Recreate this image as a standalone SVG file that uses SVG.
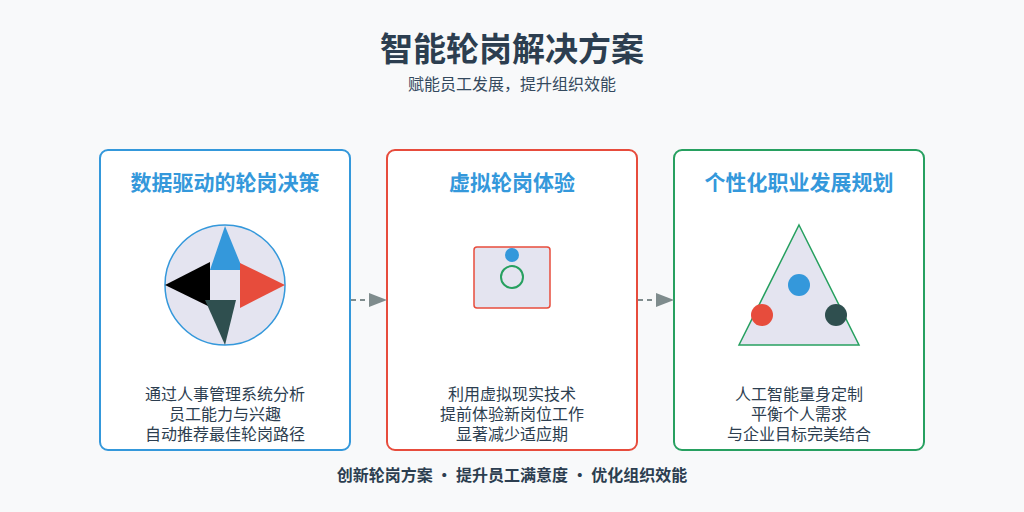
<svg xmlns="http://www.w3.org/2000/svg" width="1024" height="512" viewBox="0 0 1024 512">
<style>
text{font-family:"Noto Sans CJK SC","Noto Sans",sans-serif;text-anchor:middle}
.card{fill:#fff;stroke-width:2}
.h{font-size:21px;font-weight:bold;fill:#3498db}
.d{font-size:16px;fill:#2c3e50}
.c{stroke:#7f8c8d;stroke-width:2;stroke-dasharray:5,4;fill:none}
</style>
<defs>
<marker id="a2" markerWidth="20" markerHeight="14" refX="18" refY="7" orient="auto" markerUnits="userSpaceOnUse"><path d="M0,0 L18,7 L0,14Z" fill="#7f8c8d"/></marker></defs>
<rect width="1024" height="512" fill="#f8f9fa"/>
<text x="512" y="61" font-size="33" font-weight="bold" fill="#2c3e50">智能轮岗解决方案</text>
<text x="512" y="90" font-size="16" fill="#34495e">赋能员工发展，提升组织效能</text>
<g id="card1">
<rect class="card" x="100" y="150" width="250" height="300" rx="8" stroke="#3498db"/>
<text class="h" x="225" y="190">数据驱动的轮岗决策</text>
<circle cx="225" cy="285" r="60" fill="#e4e4f0" stroke="#3498db" stroke-width="1.5"/>
<polygon points="225,226 243,270 210,270" fill="#3498db"/>
<polygon points="240,263 285,285 240,308" fill="#e74c3c"/>
<polygon points="165,285 210,262 210,307" fill="#000"/>
<polygon points="205,300 236,300 225,345" fill="#2f4f4f"/>
<text class="d" x="225" y="400">通过人事管理系统分析</text>
<text class="d" x="225" y="420">员工能力与兴趣</text>
<text class="d" x="225" y="440">自动推荐最佳轮岗路径</text>
</g>
<g id="card2">
<rect class="card" x="387" y="150" width="250" height="300" rx="8" stroke="#e74c3c"/>
<text class="h" x="512" y="190">虚拟轮岗体验</text>
<rect x="474" y="247" width="76" height="61" rx="3" fill="#e4e4f0" stroke="#e74c3c" stroke-width="1.5"/>
<circle cx="512" cy="255" r="7" fill="#3498db"/>
<circle cx="512" cy="277" r="11" fill="none" stroke="#27a060" stroke-width="2"/>
<text class="d" x="512" y="400">利用虚拟现实技术</text>
<text class="d" x="512" y="420">提前体验新岗位工作</text>
<text class="d" x="512" y="440">显著减少适应期</text>
</g>
<g id="card3">
<rect class="card" x="674" y="150" width="250" height="300" rx="8" stroke="#27a060"/>
<text class="h" x="799" y="190">个性化职业发展规划</text>
<polygon points="799,225 859,345 739,345" fill="#e4e4f0" stroke="#27a060" stroke-width="1.5"/>
<circle cx="799" cy="285" r="11" fill="#3498db"/>
<circle cx="762" cy="315" r="11" fill="#e74c3c"/>
<circle cx="836" cy="315" r="11" fill="#2f4f4f"/>
<text class="d" x="799" y="400">人工智能量身定制</text>
<text class="d" x="799" y="420">平衡个人需求</text>
<text class="d" x="799" y="440">与企业目标完美结合</text>
</g>
<g id="connectors">
<line class="c" x1="351" y1="300" x2="387" y2="300" marker-end="url(#a2)"/>
<line class="c" x1="638" y1="300" x2="674" y2="300" marker-end="url(#a2)"/>
</g>
<text x="512" y="481" font-size="16" font-weight="bold" fill="#2c3e50">创新轮岗方案 · 提升员工满意度 · 优化组织效能</text>
</svg>
